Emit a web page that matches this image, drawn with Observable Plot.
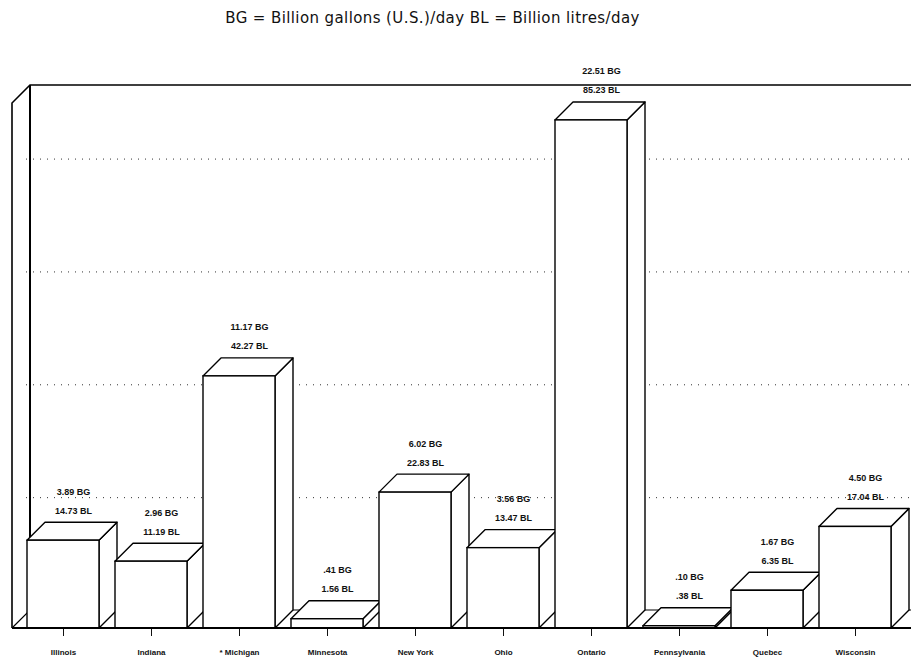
<!DOCTYPE html>
<html><head><meta charset="utf-8">
<script src="https://cdn.jsdelivr.net/npm/d3@7"></script>
<script src="https://cdn.jsdelivr.net/npm/@observablehq/plot@0.6"></script>
<style>
body{margin:0;background:#fff;}
#title{height:28px;text-align:center;font:15px "DejaVu Sans",sans-serif;line-height:36px;letter-spacing:0.4px;color:#111;padding-right:46px;white-space:nowrap;overflow:visible;}
#chart svg{display:block;overflow:visible;}
</style></head><body>
<div id="title">BG = Billion gallons (U.S.)/day BL = Billion litres/day</div>
<div id="chart"></div>
<script>
const categories = ["Illinois", "Indiana", "* Michigan", "Minnesota", "New York", "Ohio", "Ontario", "Pennsylvania", "Quebec", "Wisconsin"];
const gallons = [3.89, 2.96, 11.17, 0.41, 6.02, 3.56, 22.51, 0.10, 1.67, 4.50];
const litres = [14.73, 11.19, 42.27, 1.56, 22.83, 13.47, 85.23, 0.38, 6.35, 17.04];
const gridValues = [5, 10, 15, 20];
const yMax = 23.26;
const D = 18; // depth of the 3D effect in pixels

const data = categories.map((c, i) => ({category: c, gallons: gallons[i], litres: litres[i]}));
const fmt = v => d3.format(".2f")(v).replace(/^0\./, ".");

function frame(index, scales, values, dims) {
  const y0 = scales.y(0), yt = scales.y(yMax);
  const xl = 12, W = dims.width;
  const g = d3.create("svg:g").attr("fill", "none").attr("stroke", "#000");
  g.append("path").attr("stroke-width", 1.6)
    .attr("d", `M${xl},${y0}L${xl},${yt}L${xl + D},${yt - D}L${W},${yt - D}`);
  g.append("path").attr("stroke-width", 2)
    .attr("d", `M${xl + D},${yt - D}L${xl + D},${y0 - D}`);
  g.append("path").attr("stroke-width", 1.2)
    .attr("d", `M${xl},${y0}L${xl + D},${y0 - D}L${W},${y0 - D}`);
  return g.node();
}

function depthFaces(index, scales) {
  const bw = scales.x.bandwidth();
  const y0 = scales.y(0);
  const g = d3.create("svg:g").attr("fill", "#fff").attr("stroke", "#000")
    .attr("stroke-width", 1.4).attr("stroke-linejoin", "round");
  data.forEach(d => {
    const xl = scales.x(d.category), xr = xl + bw, yt = scales.y(d.gallons);
    g.append("path").attr("d", `M${xr},${yt}L${xr + D},${yt - D}L${xr + D},${y0 - D}L${xr},${y0}Z`);
    g.append("path").attr("d", `M${xl},${yt}L${xl + D},${yt - D}L${xr + D},${yt - D}L${xr},${yt}Z`);
  });
  return g.node();
}

function baseline(index, scales, values, dims) {
  const y0 = scales.y(0);
  return d3.create("svg:path").attr("stroke", "#000").attr("stroke-width", 2.2)
    .attr("d", `M12,${y0}L${dims.width},${y0}`).node();
}

const chart = Plot.plot({
  width: 911,
  height: 636,
  marginTop: 75,
  marginBottom: 36,
  marginLeft: 8,
  marginRight: 0,
  style: {fontFamily: "'Liberation Sans', Arial, sans-serif", fontSize: "8px", fontWeight: "bold", color: "#111", background: "#fff"},
  x: {domain: categories, padding: 0.18, label: null, tickSize: 8, tickPadding: 13},
  y: {domain: [0, yMax], axis: null},
  marks: [
    frame,
    Plot.ruleY(gridValues, {dx: D, dy: -D, stroke: "#333", strokeWidth: 1, strokeDasharray: "1,6"}),
    depthFaces,
    Plot.barY(data, {x: "category", y: "gallons", fill: "#fff", stroke: "#000", strokeWidth: 1.4}),
    baseline,
    Plot.text(data, {x: "category", y: "gallons", text: d => fmt(d.gallons) + " BG", dx: 10, dy: -49, fontSize: 9, fontWeight: "bold", fill: "#111"}),
    Plot.text(data, {x: "category", y: "gallons", text: d => fmt(d.litres) + " BL", dx: 10, dy: -30, fontSize: 9, fontWeight: "bold", fill: "#111"})
  ]
});
document.getElementById("chart").appendChild(chart);
</script>
</body></html>
